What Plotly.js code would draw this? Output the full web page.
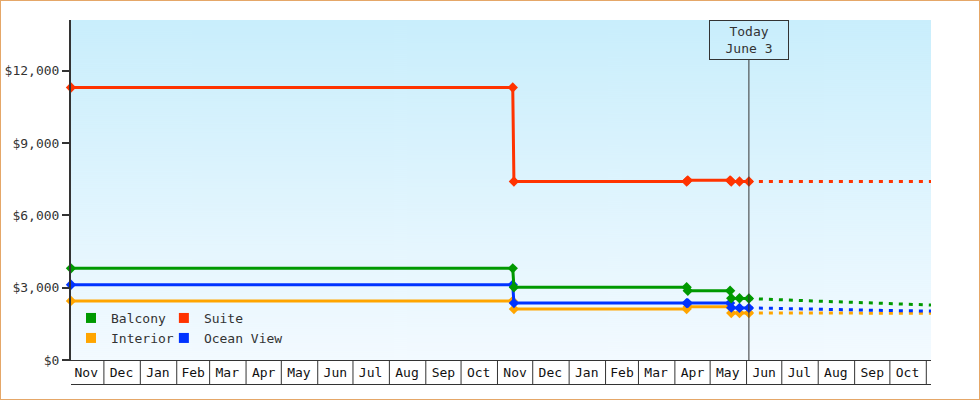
<!DOCTYPE html>
<html>
<head>
<meta charset="utf-8">
<script src="https://cdn.plot.ly/plotly-3.0.1.min.js"></script>
<style>
  body { margin: 0; background: #fff; }
  #chart { width: 978px; height: 398px; border: 1px solid #e5a768; }
</style>
</head>
<body>
<div id="chart"></div>
<script>
// price history (solid) and forecast (dotted)
var histDates = ['2024-11-03', '2025-11-14', '2025-11-15', '2026-04-11', '2026-04-12',
                 '2026-05-18', '2026-05-19', '2026-05-26', '2026-06-03'];
var suiteHist    = [11300, 11300, 7400, 7400, 7450, 7450, 7400, 7400, 7400];
var balconyHist  = [3800, 3800, 3020, 3020, 2870, 2870, 2560, 2560, 2550];
var oceanHist    = [3120, 3120, 2360, 2360, 2360, 2360, 2170, 2160, 2160];
var interiorHist = [2450, 2450, 2110, 2110, 2210, 2210, 1950, 1950, 1950];

var fcDates = ['2026-06-03', '2026-07-01', '2026-08-01', '2026-09-01', '2026-10-01', '2026-11-05'];
var suiteFc    = [7400, 7400, 7400, 7400, 7400, 7400];
var balconyFc  = [2550, 2490, 2440, 2390, 2340, 2280];
var oceanFc    = [2160, 2130, 2100, 2080, 2050, 2030];
var interiorFc = [1950, 1950, 1950, 1945, 1940, 1940];

var priceTicks = [0, 3000, 6000, 9000, 12000];
var priceLabels = ['$0', '$3,000', '$6,000', '$9,000', '$12,000'];

var monthLabels = ['Nov', 'Dec', 'Jan', 'Feb', 'Mar', 'Apr', 'May', 'Jun', 'Jul', 'Aug', 'Sep', 'Oct',
                   'Nov', 'Dec', 'Jan', 'Feb', 'Mar', 'Apr', 'May', 'Jun', 'Jul', 'Aug', 'Sep', 'Oct'];
var monthMids = ['2024-11-16', '2024-12-16', '2025-01-16', '2025-02-15', '2025-03-16', '2025-04-16',
                 '2025-05-16', '2025-06-16', '2025-07-16', '2025-08-16', '2025-09-16', '2025-10-16',
                 '2025-11-16', '2025-12-16', '2026-01-16', '2026-02-15', '2026-03-16', '2026-04-16',
                 '2026-05-16', '2026-06-16', '2026-07-16', '2026-08-16', '2026-09-16', '2026-10-16'];
var monthStarts = ['2024-12-01', '2025-01-01', '2025-02-01', '2025-03-01', '2025-04-01', '2025-05-01',
                   '2025-06-01', '2025-07-01', '2025-08-01', '2025-09-01', '2025-10-01', '2025-11-01',
                   '2025-12-01', '2026-01-01', '2026-02-01', '2026-03-01', '2026-04-01', '2026-05-01',
                   '2026-06-01', '2026-07-01', '2026-08-01', '2026-09-01', '2026-10-01', '2026-11-01'];
var today = '2026-06-03';

var FONT = '"DejaVu Sans Mono", "Liberation Mono", monospace';
var INK = '#333';

var series = [
  {name: 'Balcony',    color: '#009900', hist: balconyHist,  fc: balconyFc,  legend: 'legend'},
  {name: 'Suite',      color: '#ff3300', hist: suiteHist,    fc: suiteFc,    legend: 'legend2'},
  {name: 'Interior',   color: '#ffa500', hist: interiorHist, fc: interiorFc, legend: 'legend3'},
  {name: 'Ocean View', color: '#0033ff', hist: oceanHist,    fc: oceanFc,    legend: 'legend4'}
];

var data = [];
// draw order: interior, ocean view, balcony, suite
[2, 3, 0, 1].forEach(function (i) {
  var s = series[i];
  data.push({
    x: fcDates, y: s.fc, mode: 'lines', showlegend: false, hoverinfo: 'skip',
    line: {color: s.color, width: 3, dash: '4px,6px'}
  });
  data.push({
    x: histDates, y: s.hist, mode: 'lines+markers', showlegend: false, cliponaxis: false,
    line: {color: s.color, width: 3},
    marker: {color: s.color, symbol: 'diamond', size: 8}
  });
});
// legend entries (square swatches)
series.forEach(function (s) {
  data.push({
    x: [null], y: [null], mode: 'markers', name: s.name, legend: s.legend,
    marker: {color: s.color, symbol: 'square', size: 10}
  });
});

// plot background gradient
var cv = document.createElement('canvas');
cv.width = 4; cv.height = 340;
var ctx = cv.getContext('2d');
var g = ctx.createLinearGradient(0, 0, 0, 340);
g.addColorStop(0, '#c9eefc');
g.addColorStop(1, '#f3faff');
ctx.fillStyle = g;
ctx.fillRect(0, 0, 4, 340);

var cellDepth = -24.5 / 340;
var shapes = monthStarts.map(function (d) {
  return {type: 'line', xref: 'x', yref: 'paper', x0: d, x1: d, y0: 0, y1: cellDepth,
          line: {color: INK, width: 1}};
});
shapes.push({type: 'line', xref: 'paper', yref: 'paper', x0: 0, x1: 1, y0: cellDepth, y1: cellDepth,
             line: {color: INK, width: 1}});
shapes.push({type: 'line', xref: 'x', yref: 'paper', x0: today, x1: today, y0: 0, y1: 300 / 340,
             line: {color: INK, width: 1}});

function legendAt(x, y) {
  return {
    orientation: 'h', xanchor: 'left', yanchor: 'middle', x: x, y: y,
    bgcolor: 'rgba(0,0,0,0)', borderwidth: 0,
    font: {family: FONT, size: 13, color: INK}, itemclick: false
  };
}

var layout = {
  width: 978, height: 398,
  margin: {l: 70, r: 48, t: 19, b: 39},
  paper_bgcolor: '#fff',
  plot_bgcolor: 'rgba(0,0,0,0)',
  font: {family: FONT, size: 13, color: INK},
  xaxis: {
    type: 'date', range: ['2024-11-03', '2026-11-05'],
    tickmode: 'array', tickvals: monthMids, ticktext: monthLabels,
    ticks: '', showgrid: false, zeroline: false,
    showline: true, linecolor: INK, linewidth: 1,
    tickfont: {family: FONT, size: 13, color: '#111'}
  },
  yaxis: {
    range: [0, 14100], tickmode: 'array', tickvals: priceTicks, ticktext: priceLabels,
    ticks: 'outside', ticklen: 7, tickwidth: 2, tickcolor: INK,
    showgrid: false, zeroline: false,
    showline: true, linecolor: INK, linewidth: 2,
    tickfont: {family: FONT, size: 13, color: INK}
  },
  legend: legendAt(0.0, 0.1235),
  legend2: legendAt(0.108, 0.1235),
  legend3: legendAt(0.0, 0.0647),
  legend4: legendAt(0.108, 0.0647),
  shapes: shapes,
  images: [{
    source: cv.toDataURL(), xref: 'paper', yref: 'paper',
    x: 0, y: 1, sizex: 1, sizey: 1, sizing: 'stretch', layer: 'below',
    xanchor: 'left', yanchor: 'top'
  }],
  annotations: [{
    xref: 'x', yref: 'paper', x: today, y: 1, xanchor: 'center', yanchor: 'top',
    text: 'Today<br>June 3', showarrow: false,
    width: 78, height: 38, borderpad: 0, borderwidth: 1, bordercolor: INK,
    bgcolor: 'rgba(0,0,0,0)', font: {family: FONT, size: 13, color: INK}
  }],
  showlegend: true
};

Plotly.newPlot('chart', data, layout, {displayModeBar: false, staticPlot: true});
</script>
</body>
</html>
